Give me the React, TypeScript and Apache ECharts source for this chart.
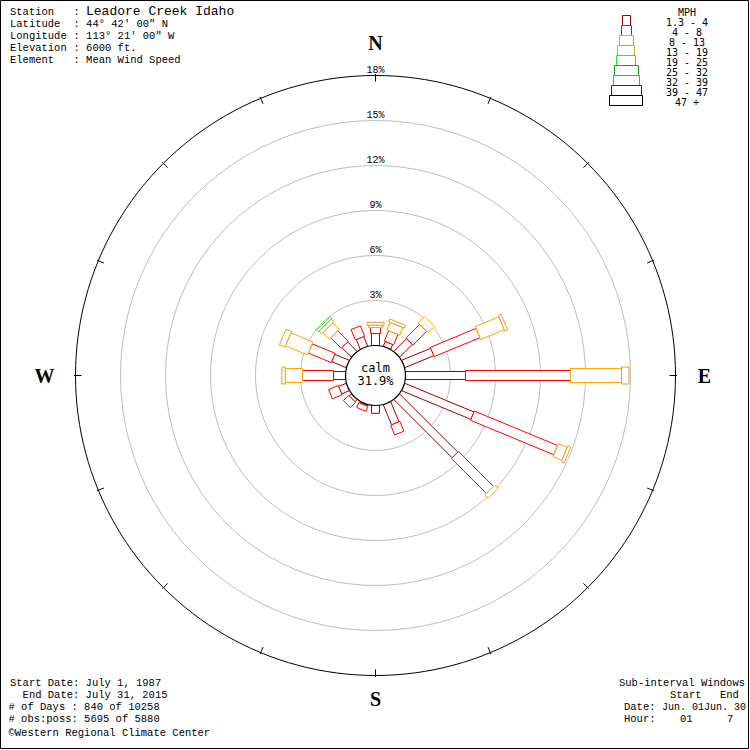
import React, { useEffect, useRef } from 'react';
import * as echarts from 'echarts';

// Compass sectors, clockwise from north
const directions = ['N', 'NNE', 'NE', 'ENE', 'E', 'ESE', 'SE', 'SSE', 'S', 'SSW', 'SW', 'WSW', 'W', 'WNW', 'NW', 'NNW'];
const directionAngles = [0, 22.5, 45, 67.5, 90, 112.5, 135, 157.5, 180, 202.5, 225, 247.5, 270, 292.5, 315, 337.5];

// Wind speed classes (MPH)
const speedClasses = ['1.3 - 4', '4 - 8', '8 - 13', '13 - 19', '19 - 25', '25 - 32', '32 - 39', '39 - 47', '47 +'];

// Percent of all observations, per sector (N..NNW), one array per speed class
const pct_1_3_to_4 = [0.8, 0.35, 1.2, 2.1, 4.0, 5.0, 5.5, 1.45, 0.52, 0.1, 0.2, 0.55, 0.8, 1.05, 0.9, 0.7];
const pct_4_to_8 = [0.4, 0.75, 1.3, 3.3, 7.0, 6.0, 3.3, 0.7, 0, 0.35, 0.5, 0.7, 2.07, 1.65, 1.0, 0.75];
const pct_8_to_13 = [0.15, 0.55, 0.6, 1.7, 3.4, 0.65, 0.3, 0, 0, 0, 0, 0, 1.15, 1.6, 0.6, 0];
const pct_13_to_19 = [0.2, 0.2, 0, 0.2, 0.5, 0.2, 0, 0, 0, 0, 0, 0, 0.22, 0.4, 0.25, 0];
const pct_19_to_25 = [0, 0, 0, 0, 0, 0, 0, 0, 0, 0, 0, 0, 0, 0, 0.15, 0];
const pct_25_to_32 = [0, 0, 0, 0, 0, 0, 0, 0, 0, 0, 0, 0, 0, 0, 0, 0];
const pct_32_to_39 = [0, 0, 0, 0, 0, 0, 0, 0, 0, 0, 0, 0, 0, 0, 0, 0];
const pct_39_to_47 = [0, 0, 0, 0, 0, 0, 0, 0, 0, 0, 0, 0, 0, 0, 0, 0];
const pct_47_plus = [0, 0, 0, 0, 0, 0, 0, 0, 0, 0, 0, 0, 0, 0, 0, 0];

const calmPct = 31.9;
const ringValues = [3, 6, 9, 12, 15, 18];

// Header / footer text
const stationLabels = ['Station', 'Latitude', 'Longitude', 'Elevation', 'Element'];
const stationValues = ['Leadore Creek Idaho', '44° 42\' 00" N', '113° 21\' 00" W', '6000 ft.', 'Mean Wind Speed'];
const periodLines = [
  'Start Date: July 1, 1987',
  '\u00a0\u00a0End Date: July 31, 2015',
  '# of Days : 840 of 10258',
  '# obs:poss: 5695 of 5880',
];
const creditLine = '\u00a9Western Regional Climate Center';

// Styling
const classColors = ['#A00000', '#FF0000', '#FFA500', '#E0A030', '#22EE22', '#11A011', '#1CA8F0', '#0A1EE0', '#000000'];
const classWidths = [8, 10, 14, 17, 19, 24, 26, 30, 33];
const MONO = '"Liberation Mono", "DejaVu Sans Mono", monospace';
const SANSMONO = '"DejaVu Sans Mono", monospace';
const R_MIN = -2; // radius-axis value at the centre: the calm circle occupies [-2, 0]

const classSeries = [
  pct_1_3_to_4, pct_4_to_8, pct_8_to_13, pct_13_to_19, pct_19_to_25,
  pct_25_to_32, pct_32_to_39, pct_39_to_47, pct_47_plus,
];

// One stacked segment per (sector, class): [end, angle, start, classIndex]
function buildSegments() {
  const out: number[][] = [];
  directionAngles.forEach((ang, d) => {
    let cum = 0;
    classSeries.forEach((arr, k) => {
      const v = arr[d];
      if (v > 0) {
        out.push([cum + v, ang, cum, k]);
        cum += v;
      }
    });
  });
  return out;
}

const cardinalLetters: Record<number, { t: string; r: number }> = {
  0: { t: 'N', r: 333 },
  90: { t: 'E', r: 329 },
  180: { t: 'S', r: 323 },
  270: { t: 'W', r: 331 },
};

function buildOption(): any {
  const graphics: any[] = [];

  // frame
  graphics.push({
    type: 'rect', shape: { x: 0.5, y: 0.5, width: 748, height: 748 },
    style: { fill: 'none', stroke: '#000', lineWidth: 1 }, z: 100,
  });

  // station block
  const headerY = [12, 24, 36, 48, 60];
  stationLabels.forEach((lab, i) => {
    graphics.push({
      type: 'text', x: 10, y: headerY[i],
      style: { text: lab, font: `10.5px ${MONO}`, fill: '#000', textVerticalAlign: 'middle' },
    });
    if (i === 0) {
      graphics.push({
        type: 'text', x: 73.5, y: headerY[i],
        style: { text: ':', font: `10.5px ${MONO}`, fill: '#000', textVerticalAlign: 'middle' },
      });
      graphics.push({
        type: 'text', x: 86, y: headerY[i] - 0.5,
        style: { text: stationValues[i], font: `13px ${MONO}`, fill: '#000', textVerticalAlign: 'middle' },
      });
    } else {
      graphics.push({
        type: 'text', x: 73.5, y: headerY[i],
        style: { text: ': ' + stationValues[i], font: `10.5px ${MONO}`, fill: '#000', textVerticalAlign: 'middle' },
      });
    }
  });

  // period block
  const footY = [683, 695, 707, 719];
  periodLines.forEach((line, i) => {
    graphics.push({
      type: 'text', x: i < 2 ? 10 : 8.5, y: footY[i],
      style: { text: line, font: `10.5px ${MONO}`, fill: '#000', textVerticalAlign: 'middle' },
    });
  });
  graphics.push({
    type: 'text', x: 8.5, y: 733,
    style: { text: creditLine, font: `10.5px ${MONO}`, fill: '#000', textVerticalAlign: 'middle' },
  });

  // sub-interval block
  const sub = [
    { t: 'Sub-interval Windows', x: 619, y: 683, f: 10.5 },
    { t: 'Start', x: 670, y: 695, f: 10.5 },
    { t: 'End', x: 720, y: 695, f: 10.5 },
    { t: 'Date:', x: 624, y: 707, f: 10.5 },
    { t: 'Jun. 01Jun. 30', x: 662, y: 707, f: 10 },
    { t: 'Hour:', x: 624, y: 719, f: 10.5 },
    { t: '01', x: 680, y: 719, f: 10.5 },
    { t: '7', x: 727, y: 719, f: 10.5 },
  ];
  sub.forEach((s) => {
    graphics.push({
      type: 'text', x: s.x, y: s.y,
      style: { text: s.t, font: `${s.f}px ${MONO}`, fill: '#000', textVerticalAlign: 'middle' },
    });
  });

  // speed-class key
  graphics.push({
    type: 'text', x: 687, y: 12,
    style: { text: 'MPH', font: `10px ${SANSMONO}`, fill: '#000', textAlign: 'center', textVerticalAlign: 'middle' },
  });
  speedClasses.forEach((lab, k) => {
    const w = classWidths[k];
    const top = 15 + k * 10;
    graphics.push({
      type: 'rect', shape: { x: Math.round(625.5 - w / 2) + 0.5, y: top + 0.5, width: w, height: 10 },
      style: { fill: '#fff', stroke: classColors[k], lineWidth: 1 },
    });
    graphics.push({
      type: 'text', x: 687, y: top + 7.5,
      style: { text: lab, font: `10px ${SANSMONO}`, fill: '#000', textAlign: 'center', textVerticalAlign: 'middle' },
    });
  });

  const segments = buildSegments();

  return {
    animation: false,
    backgroundColor: '#fff',
    polar: { center: [375.5, 375.5], radius: 300 },
    angleAxis: {
      type: 'value', min: 0, max: 360, startAngle: 90, clockwise: true, show: false,
    },
    radiusAxis: { type: 'value', min: R_MIN, max: 18, show: false },
    graphic: graphics,
    series: [
      {
        // percentage rings
        type: 'custom', coordinateSystem: 'polar', z: 1,
        data: ringValues.map((v) => [v, 0]),
        renderItem: (params: any, api: any) => {
          const v = api.value(0);
          const c = api.coord([R_MIN, 0]);
          const top = api.coord([v, 0]);
          const r = c[1] - top[1];
          const outer = params.dataIndex === ringValues.length - 1;
          return {
            type: 'group',
            children: [
              {
                type: 'circle', shape: { cx: c[0], cy: c[1], r },
                style: { fill: 'none', stroke: outer ? '#000' : '#BDBDBD', lineWidth: 1 },
              },
              {
                type: 'text',
                style: {
                  text: `${v}%`, x: c[0], y: top[1], font: `10px ${MONO}`, fill: '#000',
                  textAlign: 'center', textVerticalAlign: 'bottom',
                },
              },
            ],
          };
        },
      },
      {
        // ticks on the outer ring and compass letters
        type: 'custom', coordinateSystem: 'polar', z: 2,
        data: directionAngles.map((a) => [18, a]),
        renderItem: (params: any, api: any) => {
          const a = api.value(1);
          const c = api.coord([R_MIN, a]);
          const p = api.coord([18, a]);
          const R = Math.hypot(p[0] - c[0], p[1] - c[1]);
          const ux = (p[0] - c[0]) / R;
          const uy = (p[1] - c[1]) / R;
          const children: any[] = [
            {
              type: 'line',
              shape: { x1: c[0] + ux * (R - 6), y1: c[1] + uy * (R - 6), x2: c[0] + ux * (R + 1.5), y2: c[1] + uy * (R + 1.5) },
              style: { stroke: '#000', lineWidth: 1 },
            },
          ];
          const letter = cardinalLetters[a];
          if (letter) {
            children.push({
              type: 'text',
              style: {
                text: letter.t, x: c[0] + ux * letter.r, y: c[1] + uy * letter.r,
                font: 'bold 20px "Liberation Serif", serif', fill: '#000',
                textAlign: 'center', textVerticalAlign: 'middle',
              },
            });
          }
          return { type: 'group', children };
        },
      },
      {
        // stacked speed-class segments per sector
        type: 'custom', coordinateSystem: 'polar', z: 3,
        data: segments,
        renderItem: (params: any, api: any) => {
          const end = api.value(0);
          const ang = api.value(1);
          const start = api.value(2);
          const k = api.value(3);
          const c = api.coord([R_MIN, ang]);
          const a = api.coord([start, ang]);
          const b = api.coord([end, ang]);
          const len = Math.hypot(b[0] - c[0], b[1] - c[1]);
          const ux = (b[0] - c[0]) / len;
          const uy = (b[1] - c[1]) / len;
          const h = classWidths[k] / 2;
          const px = -uy * h;
          const py = ux * h;
          return {
            type: 'polygon',
            shape: {
              points: [
                [a[0] + px, a[1] + py],
                [b[0] + px, b[1] + py],
                [b[0] - px, b[1] - py],
                [a[0] - px, a[1] - py],
              ],
            },
            style: { fill: '#fff', stroke: classColors[k], lineWidth: 1 },
          };
        },
      },
      {
        // calm circle
        type: 'custom', coordinateSystem: 'polar', z: 4,
        data: [[0, 0]],
        renderItem: (params: any, api: any) => {
          const c = api.coord([R_MIN, 0]);
          const e = api.coord([0, 0]);
          const r = c[1] - e[1];
          return {
            type: 'group',
            children: [
              {
                type: 'circle', shape: { cx: c[0], cy: c[1], r },
                style: { fill: '#fff', stroke: '#000', lineWidth: 1.2 },
              },
              {
                type: 'text',
                style: {
                  text: 'calm', x: c[0], y: c[1] - 8, font: `12px ${SANSMONO}`, fill: '#000',
                  textAlign: 'center', textVerticalAlign: 'middle',
                },
              },
              {
                type: 'text',
                style: {
                  text: `${calmPct}%`, x: c[0], y: c[1] + 5, font: `12px ${SANSMONO}`, fill: '#000',
                  textAlign: 'center', textVerticalAlign: 'middle',
                },
              },
            ],
          };
        },
      },
    ],
  };
}

export default function App() {
  const ref = useRef<HTMLDivElement>(null);
  useEffect(() => {
    if (!ref.current) return;
    const chart = echarts.init(ref.current, null, { renderer: 'svg', width: 750, height: 750 });
    chart.setOption(buildOption());
    return () => chart.dispose();
  }, []);
  return (
    <div
      ref={ref}
      style={{ position: 'fixed', left: 0, top: 0, width: 750, height: 750, background: '#fff' }}
    />
  );
}
